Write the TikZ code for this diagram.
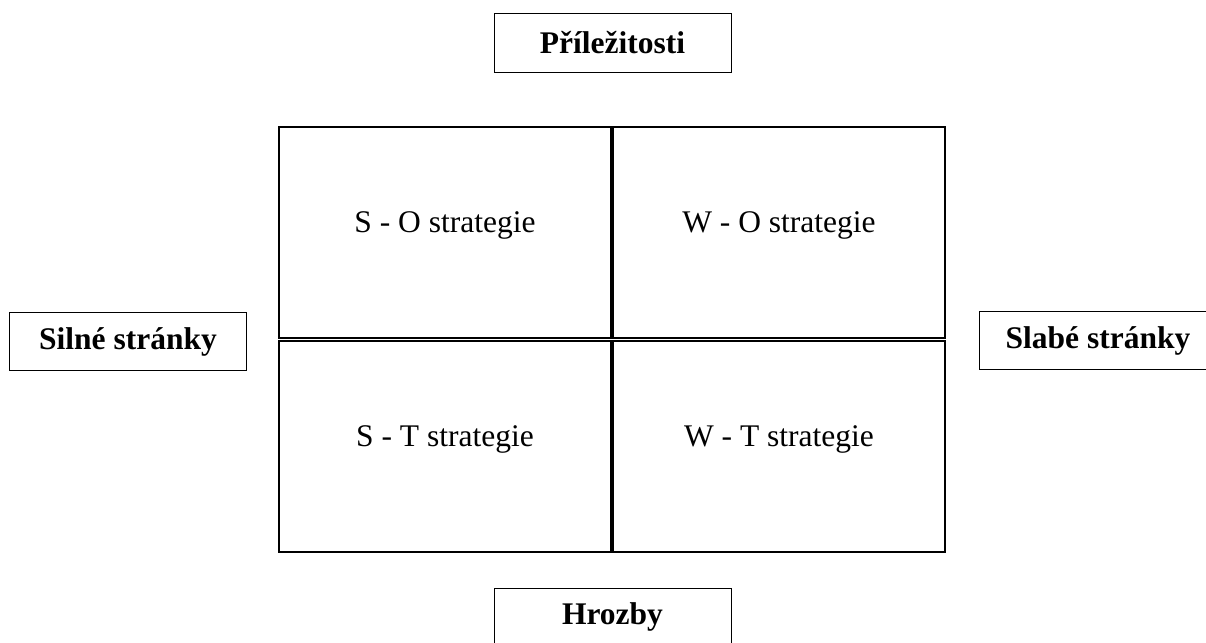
\documentclass[tikz,border=0pt]{standalone}
\usepackage{fontspec}
\setmainfont{Liberation Serif}
\usepackage{tikz}
\begin{document}
\begin{tikzpicture}[x=1pt,y=-1pt,
  side/.style={draw,line width=1pt,inner sep=0pt,minimum width=237pt,minimum height=58pt,font=\fontsize{31.5}{38}\selectfont\bfseries},
  quad/.style={draw,line width=1.1pt,inner sep=0pt,minimum width=332pt,minimum height=211pt},
  strat/.style={font=\fontsize{31.5}{38}\selectfont}]
\clip (0,0) rectangle (1206,642); \useasboundingbox (0,0) rectangle (1206,642);
\node[side] (opp) at (612.5,43) {Příležitosti}; \node[side] (str) at (128,341.5)
  {Silné stránky}; \node[side] (weak) at (1098,340.5) {Slabé stránky};
\node[side] (thr) at (612.5,617) {Hrozby};
\node[quad] (so) at (445,232.5) {}; \node[quad] (wo) at (779,232.5) {};
\node[quad] (st) at (445,446.5) {}; \node[quad] (wt) at (779,446.5) {};
\node[strat] (soT) at ([yshift=7pt]so.center) {S - O strategie};
\node[strat] (woT) at ([yshift=7pt]wo.center) {W - O strategie};
\node[strat] (stT) at ([yshift=7pt]st.center) {S - T strategie};
\node[strat] (wtT) at ([yshift=7pt]wt.center) {W - T strategie};
\end{tikzpicture}
\end{document}
